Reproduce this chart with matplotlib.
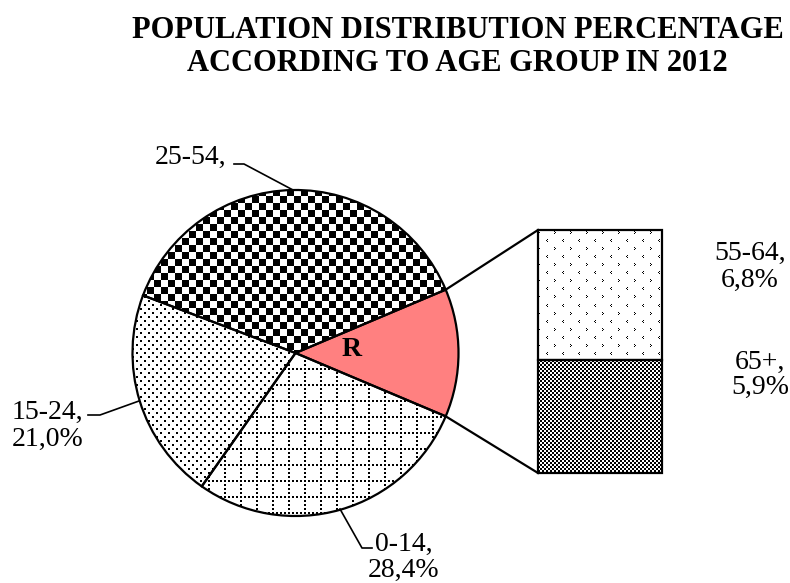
import numpy as np
import matplotlib
matplotlib.use("Agg")
import matplotlib.pyplot as plt

# ---- data ----
pie_labels = ["R", "25-54", "15-24", "0-14"]
bar_labels = ["65+", "55-64"]
bar_values = [5.9, 6.8]
pie_values = [sum(bar_values), 37.9, 21.0, 28.4]
label_texts = {"25-54": "25-54,", "15-24": "15-24,\n21,0%", "0-14": "0-14,\n28,4%",
               "55-64": "55-64,\n6,8%", "65+": "65+,\n5,9%"}
title_lines = ["POPULATION DISTRIBUTION PERCENTAGE", "ACCORDING TO AGE GROUP IN 2012"]

W, H = 790, 583
plt.rcParams['font.family'] = ['Liberation Serif', 'DejaVu Serif']

fig = plt.figure(figsize=(W / 100, H / 100), dpi=100)
ax = fig.add_axes([0, 0, 1, 1])
ax.set_xlim(0, W)
ax.set_ylim(0, H)
ax.set_aspect('equal')
ax.axis('off')


def Y(y):
    return H - y


# pattern images (pixel grid)
yy, xx = np.mgrid[0:H, 0:W]
pat = {}
pat["25-54"] = ((xx // 7 + yy // 7) % 2 == 0)
pat["15-24"] = (((yy % 8) < 2) & ((xx % 8) < 2)) | (((yy % 8 >= 4) & (yy % 8 < 6)) & ((xx % 8 >= 4) & (xx % 8 < 6)))
pat["0-14"] = (((yy % 16) < 2) & ((xx % 4) < 2)) | (((xx % 16) < 2) & ((yy % 4) < 2))
ty, tx = yy % 16, xx % 16
lt = ((ty == 0) & (tx == 3)) | ((ty == 1) & (tx == 2)) | ((ty == 2) & (tx == 3))
gt = ((ty == 8) & (tx == 10)) | ((ty == 9) & (tx == 11)) | ((ty == 10) & (tx == 10))
pat["55-64"] = lt | gt
pat["65+"] = ((xx // 2 + yy // 2) % 2 == 0)


def pattern_fill(patch, key):
    img = np.where(pat[key][..., None], 0.0, 1.0) * np.ones((1, 1, 3))
    im = ax.imshow(img, extent=(0, W, 0, H), origin='upper', interpolation='nearest',
                   zorder=2, aspect='auto')
    im.set_clip_path(patch)


cx, cy, r = 295.5, Y(353), 163
start = -pie_values[0] / sum(pie_values) * 360 / 2
wedges, _ = ax.pie(pie_values, startangle=start, counterclock=True, center=(cx, cy),
                   radius=r, frame=True,
                   wedgeprops=dict(linewidth=1.6, edgecolor='black', facecolor='none', zorder=3))
ax.set_xlim(0, W)
ax.set_ylim(0, H)
ax.axis('off')
for w, lab in zip(wedges, pie_labels):
    if lab == "R":
        w.set_facecolor('#FF8080')
    else:
        pattern_fill(w, lab)

# bar
bar_x, bar_w = 600, 124
bar_bottom, bar_top = Y(473), Y(230)
k = (bar_top - bar_bottom) / sum(bar_values)
bottom = bar_bottom
for lab, v in zip(bar_labels, bar_values):
    b = ax.bar(bar_x, v * k, width=bar_w, bottom=bottom, facecolor='none',
               edgecolor='black', linewidth=1.6, zorder=3)[0]
    pattern_fill(b, lab)
    bottom += v * k

# connectors
rw = wedges[0]
t1, t2 = np.deg2rad(rw.theta1), np.deg2rad(rw.theta2)
p_low = (cx + r * np.cos(t1), cy + r * np.sin(t1))
p_up = (cx + r * np.cos(t2), cy + r * np.sin(t2))
x_left = bar_x - bar_w / 2
ax.plot([p_up[0], x_left], [p_up[1], bar_top], color='black', lw=1.6, zorder=3)
ax.plot([p_low[0], x_left], [p_low[1], bar_bottom], color='black', lw=1.6, zorder=3)

# R label
ax.text(352, Y(350), "R", fontsize=20, fontweight='bold', ha='center', va='center', zorder=4)

fs = 20
# leaders and labels
ax.plot([234, 244, 293], [Y(164), Y(164), Y(190)], color='black', lw=1.2, zorder=4)
ax.text(155, Y(164), label_texts["25-54"], fontsize=fs, ha='left', va='baseline')

ax.plot([88, 100, 139], [Y(415), Y(415), Y(401)], color='black', lw=1.2, zorder=4)
ax.text(12, Y(446), label_texts["15-24"], fontsize=fs, ha='left', va='baseline',
        linespacing=1.1, multialignment='left')

ax.plot([340, 362, 372], [Y(509), Y(548), Y(548)], color='black', lw=1.2, zorder=4)
ax.text(404, Y(577), label_texts["0-14"], fontsize=fs, ha='center', va='baseline',
        linespacing=1.05, multialignment='center')

ax.text(750, Y(287), label_texts["55-64"], fontsize=fs, ha='center', va='baseline',
        linespacing=1.1, multialignment='center')
ax.text(760, Y(394), label_texts["65+"], fontsize=fs, ha='center', va='baseline',
        linespacing=1.0, multialignment='center')

# title
tx0 = 457.5
for line, yb in zip(title_lines, [38, 71]):
    ax.text(tx0, Y(yb), line, fontsize=22, fontweight='bold', ha='center', va='baseline')

fig.savefig("out.png", dpi=100)
